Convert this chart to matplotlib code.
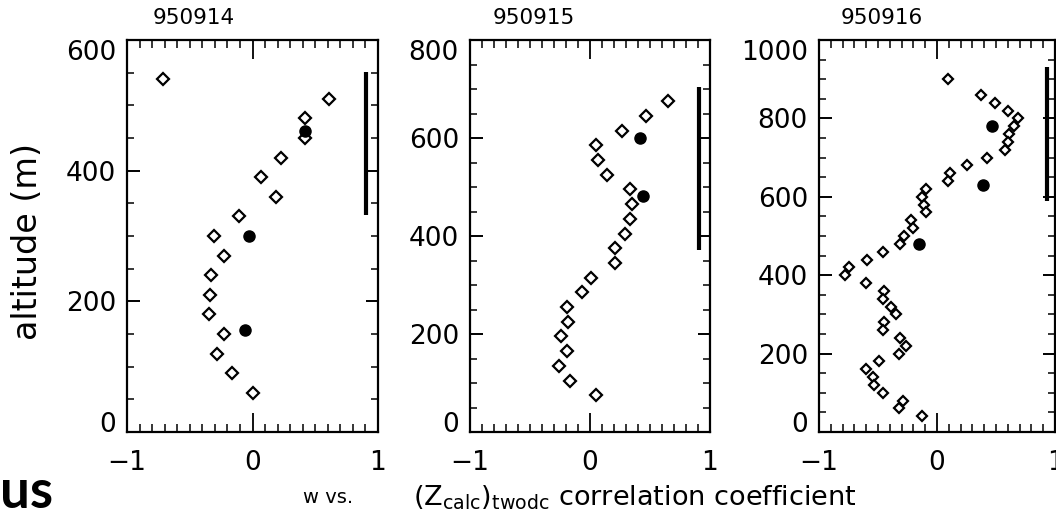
import matplotlib
matplotlib.use("Agg")
import matplotlib.pyplot as plt
from matplotlib.ticker import FixedLocator, MultipleLocator

plt.rcParams['font.family'] = ['DejaVu Sans']
plt.rcParams['mathtext.fontset'] = 'dejavusans'

# ---------------- data ----------------
titles = ["950914", "950915", "950916"]

p1_alt_open = [540, 510, 480, 450, 420, 390, 360, 330, 300, 270, 240, 210, 180, 150, 120, 90, 60]
p1_r_open = [-0.71, 0.61, 0.42, 0.42, 0.23, 0.07, 0.19, -0.11, -0.31, -0.23, -0.33, -0.34, -0.35,
             -0.23, -0.28, -0.16, 0.00]
p1_alt_fill = [461, 300, 156]
p1_r_fill = [0.42, -0.03, -0.06]
p1_bar = [332, 551]

p2_alt_open = [675, 645, 615, 585, 555, 525, 495, 465, 435, 405, 375, 345, 315, 285, 255, 225,
               195, 165, 135, 105, 75]
p2_r_open = [0.65, 0.47, 0.27, 0.05, 0.07, 0.14, 0.33, 0.35, 0.33, 0.29, 0.21, 0.21, 0.01, -0.07,
             -0.19, -0.18, -0.24, -0.19, -0.26, -0.17, 0.05]
p2_alt_fill = [600, 481]
p2_r_fill = [0.42, 0.44]
p2_bar = [372, 705]

p3_alt_open = [900, 860, 840, 820, 800, 780, 760, 740, 720, 700, 680, 660, 640, 620, 600, 580,
               560, 540, 520, 500, 480, 460, 440, 420, 400, 380, 360, 340, 320, 300, 280, 260,
               240, 220, 200, 180, 160, 140, 120, 100, 80, 60, 40]
p3_r_open = [0.09, 0.37, 0.49, 0.60, 0.69, 0.65, 0.61, 0.60, 0.58, 0.42, 0.25, 0.11, 0.09, -0.09,
             -0.13, -0.11, -0.09, -0.22, -0.20, -0.28, -0.31, -0.46, -0.59, -0.75, -0.78, -0.60,
             -0.45, -0.46, -0.39, -0.35, -0.45, -0.46, -0.31, -0.26, -0.32, -0.49, -0.60, -0.54,
             -0.53, -0.46, -0.29, -0.32, -0.13]
p3_alt_fill = [781, 631, 480]
p3_r_fill = [0.47, 0.39, -0.15]
p3_bar = [590, 930]

y_max = [600, 800, 1000]
y_ticks = [[0, 200, 400, 600], [0, 200, 400, 600, 800], [0, 200, 400, 600, 800, 1000]]
x_ticks = [-1, 0, 1]
x_tick_labels = ["\u22121", "0", "1"]

ylabel = "altitude (m)"
xlabel_a = "w vs."
xlabel_b = r"$(\mathrm{Z}_{\mathrm{calc}})_{\mathrm{twodc}}$ correlation coefficient"
corner_text = "us"

# ---------------- layout ----------------
W, H = 1056, 515
fig = plt.figure(figsize=(W / 100, H / 100), dpi=100)

panel_px = [(127, 251), (470, 240), (819, 236)]   # left, width in pixels
top_px, bot_px = 40, 432
bar_x = [0.905, 0.91, 0.93]
diamond_size = [6.4, 6.1, 5.4]

opens = [(p1_r_open, p1_alt_open), (p2_r_open, p2_alt_open), (p3_r_open, p3_alt_open)]
fills = [(p1_r_fill, p1_alt_fill), (p2_r_fill, p2_alt_fill), (p3_r_fill, p3_alt_fill)]
bars = [p1_bar, p2_bar, p3_bar]

for i in range(3):
    l, w = panel_px[i]
    ax = fig.add_axes([l / W, 1 - bot_px / H, w / W, (bot_px - top_px) / H])
    ro, ao = opens[i]
    rf, af = fills[i]
    ax.plot(ro, ao, linestyle='none', marker='D', markersize=diamond_size[i],
            markerfacecolor='white', markeredgecolor='black', markeredgewidth=1.6, zorder=3)
    ax.plot(rf, af, linestyle='none', marker='o', markersize=8,
            markerfacecolor='black', markeredgecolor='black', zorder=4)
    ax.plot([bar_x[i], bar_x[i]], bars[i], color='black', linewidth=3.0, solid_capstyle='butt',
            zorder=2)

    ax.set_xlim(-1, 1)
    ax.set_ylim(0, y_max[i])
    ax.xaxis.set_major_locator(FixedLocator(x_ticks))
    ax.set_xticklabels(x_tick_labels)
    ax.xaxis.set_minor_locator(MultipleLocator(0.1))
    ax.yaxis.set_major_locator(FixedLocator(y_ticks[i]))
    ax.yaxis.set_minor_locator(MultipleLocator(50))

    ax.tick_params(axis='x', which='major', direction='in', length=14, width=1.3,
                   top=True, bottom=True, labelsize=19, pad=13)
    ax.tick_params(axis='x', which='minor', direction='in', length=5.5, width=1.1,
                   top=True, bottom=True)
    ax.tick_params(axis='y', which='major', direction='in', length=9, width=1.4,
                   left=True, right=True, labelsize=19, pad=8)
    ax.tick_params(axis='y', which='minor', direction='in', length=5, width=1.1,
                   left=True, right=True)
    for s in ax.spines.values():
        s.set_linewidth(1.6)

    ax.text(0.265, 1.041, titles[i], transform=ax.transAxes, ha='center', va='baseline',
            fontsize=15.5)

    fig.canvas.draw()
    ticks = ax.yaxis.get_major_ticks()
    ticks[0].label1.set_va('baseline')
    ticks[-1].label1.set_va('top')

fig.text(28 / W, 1 - 242 / H, ylabel, rotation=90, ha='center', va='center', fontsize=24)
fig.text(303 / W, 1 - 503 / H, xlabel_a, ha='left', va='baseline', fontsize=14)
fig.text(413 / W, 1 - 506 / H, xlabel_b, ha='left', va='baseline', fontsize=19.5)
fig.text(0 / W, 1 - 508 / H, corner_text, ha='left', va='baseline', fontsize=38,
         fontweight='bold', family=['Lato', 'DejaVu Sans'])

fig.savefig("out.png", dpi=100)
